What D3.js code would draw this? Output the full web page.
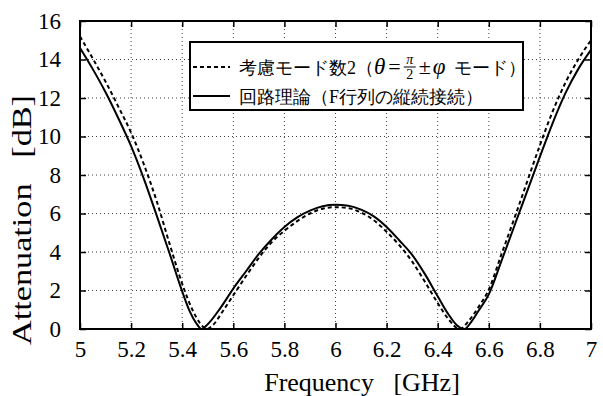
<!DOCTYPE html>
<html>
<head>
<meta charset="utf-8">
<script src="https://cdn.jsdelivr.net/npm/d3@7"></script>
<style>
  body { margin: 0; background: #fff; }
  text { font-family: "Liberation Serif", "DejaVu Serif", serif; fill: #000; }
</style>
</head>
<body>
<div id="chart"></div>
<script>
// Frequency points (GHz) and attenuation (dB)
const freqCircuit = [5.00, 5.05, 5.10, 5.15, 5.20, 5.25, 5.30, 5.35, 5.40, 5.43, 5.455, 5.476, 5.50, 5.55,
  5.60, 5.65, 5.70, 5.75, 5.80, 5.85, 5.90, 5.95, 6.00, 6.05, 6.10, 6.15, 6.20, 6.25, 6.30, 6.35,
  6.40, 6.44, 6.475, 6.505, 6.53, 6.56, 6.60, 6.65, 6.70, 6.75, 6.80, 6.85, 6.90, 6.95, 7.00];
const attCircuit = [14.6, 13.5, 12.3, 10.95, 9.5, 7.8, 5.9, 3.95, 1.95, 0.9, 0.3, 0.0, 0.25, 1.1,
  2.1, 3.0, 3.9, 4.65, 5.3, 5.8, 6.15, 6.38, 6.45, 6.4, 6.2, 5.85, 5.3, 4.6, 3.85, 2.85,
  1.7, 0.8, 0.2, 0.0, 0.35, 0.95, 1.8, 3.55, 5.35, 7.15, 8.95, 10.7, 12.25, 13.5, 14.5];

const freqMode = [5.00, 5.05, 5.10, 5.15, 5.20, 5.25, 5.30, 5.35, 5.40, 5.44, 5.47, 5.496, 5.52, 5.56,
  5.60, 5.65, 5.70, 5.75, 5.80, 5.85, 5.90, 5.95, 6.00, 6.05, 6.10, 6.15, 6.20, 6.25, 6.30, 6.35,
  6.40, 6.44, 6.487, 6.52, 6.56, 6.60, 6.65, 6.70, 6.75, 6.80, 6.85, 6.90, 6.95, 7.00];
const attMode = [15.2, 14.05, 12.85, 11.55, 10.2, 8.55, 6.65, 4.45, 2.35, 1.0, 0.3, 0.0, 0.2, 0.95,
  1.75, 2.75, 3.7, 4.5, 5.1, 5.6, 6.0, 6.25, 6.33, 6.28, 6.05, 5.65, 5.05, 4.35, 3.5, 2.45,
  1.35, 0.55, 0.0, 0.4, 1.15, 2.05, 3.9, 5.75, 7.65, 9.55, 11.3, 12.8, 14.0, 15.0];

const xTicks = [5, 5.2, 5.4, 5.6, 5.8, 6, 6.2, 6.4, 6.6, 6.8, 7];
const yTicks = [0, 2, 4, 6, 8, 10, 12, 14, 16];

const legendMode = "考慮モード数2（";
const legendCircuit = "回路理論（F行列の縦続接続）";

const width = 603, height = 396;
const margin = { top: 21, right: 12, bottom: 67, left: 80 };
const w = width - margin.left - margin.right;
const h = height - margin.top - margin.bottom;

const svg = d3.select("#chart").append("svg")
  .attr("width", width)
  .attr("height", height);

const g = svg.append("g")
  .attr("transform", "translate(" + margin.left + "," + margin.top + ")");

const x = d3.scaleLinear().domain([5, 7]).range([0, w]);
const y = d3.scaleLinear().domain([0, 16]).range([h, 0]);

// dotted grid
g.append("g").selectAll("line")
  .data(xTicks.slice(1, -1))
  .join("line")
  .attr("x1", d => x(d)).attr("x2", d => x(d))
  .attr("y1", 0).attr("y2", h)
  .attr("stroke", "#444").attr("stroke-width", 1)
  .attr("stroke-dasharray", "1,3");
g.append("g").selectAll("line")
  .data(yTicks.slice(1, -1))
  .join("line")
  .attr("x1", 0).attr("x2", w)
  .attr("y1", d => y(d)).attr("y2", d => y(d))
  .attr("stroke", "#444").attr("stroke-width", 1)
  .attr("stroke-dasharray", "1,3");

// axes with inward ticks on all four sides
const fmt = d3.format("");
const axB = g.append("g").attr("transform", "translate(0," + h + ")")
  .call(d3.axisBottom(x).tickValues(xTicks).tickFormat(fmt).tickSizeInner(-6).tickSizeOuter(0).tickPadding(12));
const axL = g.append("g")
  .call(d3.axisLeft(y).tickValues(yTicks).tickFormat(fmt).tickSizeInner(-6).tickSizeOuter(0).tickPadding(19));
const axT = g.append("g")
  .call(d3.axisTop(x).tickValues(xTicks).tickFormat("").tickSizeInner(-6).tickSizeOuter(0));
const axR = g.append("g").attr("transform", "translate(" + w + ",0)")
  .call(d3.axisRight(y).tickValues(yTicks).tickFormat("").tickSizeInner(-6).tickSizeOuter(0));
[axB, axL, axT, axR].forEach(a => {
  a.attr("font-family", null);
  a.select(".domain").remove();
  a.selectAll(".tick line").attr("stroke", "#000").attr("stroke-width", 1.5);
  a.selectAll(".tick text").attr("font-size", 23).attr("font-family", "Liberation Serif");
});

// frame
g.append("rect")
  .attr("width", w).attr("height", h)
  .attr("fill", "none").attr("stroke", "#000").attr("stroke-width", 2);

// curves
const line = d3.line()
  .x(d => x(d[0]))
  .y(d => y(d[1]))
  .curve(d3.curveMonotoneX);

g.append("path")
  .datum(d3.zip(freqMode, attMode))
  .attr("fill", "none").attr("stroke", "#000").attr("stroke-width", 2)
  .attr("stroke-dasharray", "4,3")
  .attr("d", line);
g.append("path")
  .datum(d3.zip(freqCircuit, attCircuit))
  .attr("fill", "none").attr("stroke", "#000").attr("stroke-width", 2)
  .attr("d", line);

// axis titles
svg.append("text")
  .attr("x", 362).attr("y", 391)
  .attr("text-anchor", "middle").attr("font-size", 26)
  .attr("xml:space", "preserve")
  .text("Frequency   [GHz]");
svg.append("text")
  .attr("transform", "translate(31,220) rotate(-90)")
  .attr("text-anchor", "middle").attr("font-size", 27)
  .attr("xml:space", "preserve")
  .attr("textLength", 250).attr("lengthAdjust", "spacingAndGlyphs")
  .text("Attenuation   [dB]");

// legend
const lg = svg.append("g").attr("transform", "translate(190,42)");
lg.append("rect")
  .attr("width", 333).attr("height", 68)
  .attr("fill", "#fff").attr("stroke", "#000").attr("stroke-width", 2);
lg.append("line").attr("x1", 3).attr("x2", 40).attr("y1", 25).attr("y2", 25)
  .attr("stroke", "#000").attr("stroke-width", 2).attr("stroke-dasharray", "4,3");
lg.append("line").attr("x1", 3).attr("x2", 40).attr("y1", 54).attr("y2", 54)
  .attr("stroke", "#000").attr("stroke-width", 2);

const cjk = "'Noto Sans CJK JP', sans-serif";
// first row: text + inline formula, placed piece by piece
let cx = 49;
function piece(str, opts) {
  const t = lg.append("text")
    .attr("x", cx).attr("y", opts.y || 32)
    .attr("font-size", opts.size || 18)
    .attr("font-family", opts.font || cjk)
    .attr("font-style", opts.italic ? "italic" : "normal")
    .text(str);
  if (opts.anchor) t.attr("text-anchor", opts.anchor);
  const len = t.node().getComputedTextLength();
  if (!opts.noAdvance) cx += len + (opts.gap || 0);
  return len;
}
piece(legendMode, {});
piece("θ", { font: "Liberation Serif", italic: true, size: 23, gap: 3 });
piece("=", { font: "Liberation Serif", size: 22, gap: 3 });
// stacked π/2
cx += 6;
piece("π", { font: "Liberation Serif", italic: true, size: 14, y: 22, anchor: "middle", noAdvance: true });
lg.append("line").attr("x1", cx - 6).attr("x2", cx + 6).attr("y1", 25).attr("y2", 25)
  .attr("stroke", "#000").attr("stroke-width", 1);
piece("2", { font: "Liberation Serif", size: 14, y: 37, anchor: "middle", noAdvance: true });
cx += 9;
piece("±", { font: "Liberation Serif", size: 22, gap: 2 });
piece("φ", { font: "Liberation Serif", italic: true, size: 23, gap: 8 });
piece("モード）", {});

lg.append("text")
  .attr("x", 49).attr("y", 61)
  .attr("font-size", 18).attr("font-family", cjk)
  .text(legendCircuit);
</script>
</body>
</html>
